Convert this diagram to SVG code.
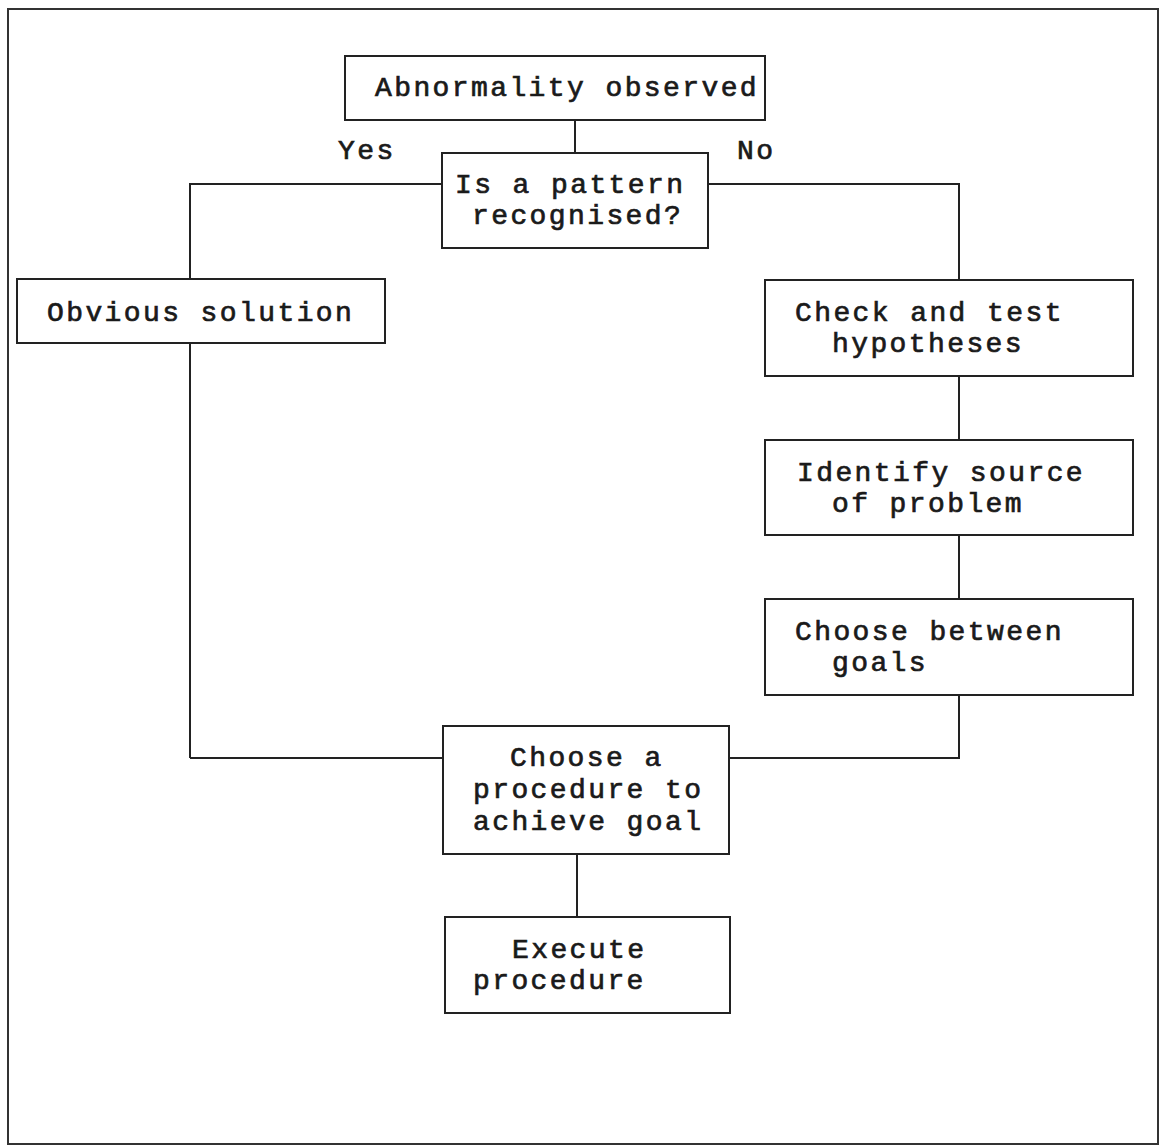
<svg xmlns="http://www.w3.org/2000/svg" width="1163" height="1147" viewBox="0 0 1163 1147">
<style>
.box{fill:#fff;stroke:#222;stroke-width:2}
.ln{fill:none;stroke:#222;stroke-width:2}
text{font-family:"Liberation Mono","Courier New",monospace;font-size:28px;letter-spacing:2.4px;fill:#1a1a1a;stroke:#1a1a1a;stroke-width:0.7}
</style>
<rect width="1163" height="1147" fill="#fff"/>
<rect id="frame" x="8" y="9" width="1150" height="1135" fill="none" stroke="#333" stroke-width="2"/>
<g id="connectors">
<line class="ln" x1="575" y1="120" x2="575" y2="153"/>
<polyline class="ln" points="442,184 190,184 190,279"/>
<polyline class="ln" points="708,184 959,184 959,280"/>
<line class="ln" x1="190" y1="343" x2="190" y2="758"/>
<line class="ln" x1="190" y1="758" x2="443" y2="758"/>
<line class="ln" x1="959" y1="376" x2="959" y2="440"/>
<line class="ln" x1="959" y1="535" x2="959" y2="599"/>
<polyline class="ln" points="959,695 959,758 729,758"/>
<line class="ln" x1="577" y1="854" x2="577" y2="917"/>
<text x="338" y="159">Yes</text>
<text x="737" y="159">No</text>
</g>
<g id="n-abnormality">
<rect class="box" x="345" y="56" width="420" height="64"/>
<text x="375" y="96">Abnormality observed</text>
</g>
<g id="n-pattern">
<rect class="box" x="442" y="153" width="266" height="95"/>
<text x="455" y="193">Is a pattern</text>
<text x="472" y="224">recognised?</text>
</g>
<g id="n-obvious">
<rect class="box" x="17" y="279" width="368" height="64"/>
<text x="47" y="321">Obvious solution</text>
</g>
<g id="n-check">
<rect class="box" x="765" y="280" width="368" height="96"/>
<text x="795" y="321">Check and test</text>
<text x="832" y="352">hypotheses</text>
</g>
<g id="n-identify">
<rect class="box" x="765" y="440" width="368" height="95"/>
<text x="797" y="481">Identify source</text>
<text x="832" y="512">of problem</text>
</g>
<g id="n-goals">
<rect class="box" x="765" y="599" width="368" height="96"/>
<text x="795" y="640">Choose between</text>
<text x="832" y="671">goals</text>
</g>
<g id="n-procedure">
<rect class="box" x="443" y="726" width="286" height="128"/>
<text x="510" y="766">Choose a</text>
<text x="473" y="798">procedure to</text>
<text x="473" y="830">achieve goal</text>
</g>
<g id="n-execute">
<rect class="box" x="445" y="917" width="285" height="96"/>
<text x="512" y="958">Execute</text>
<text x="473" y="989">procedure</text>
</g>
</svg>
